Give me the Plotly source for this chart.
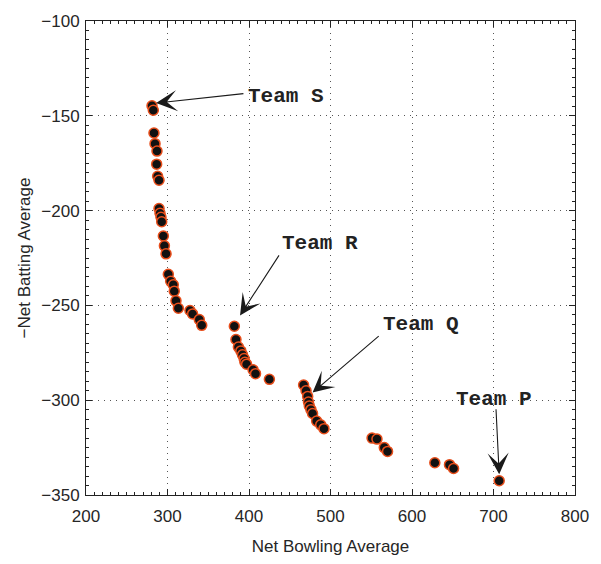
import plotly.graph_objects as go

# Net bowling average (x) and negated net batting average (y) per team-season
bowling = [281, 282.6, 283.4, 284.7, 287.1, 286.7, 287.9, 289.6, 289.6, 290.8,
           292, 292.9, 294.9, 296.2, 298.2, 301, 303.9, 307.1, 308.3, 310.4,
           313.3, 327.6, 330.8, 339, 342,
           382, 384, 387, 390, 392, 394, 395, 397, 405, 408, 425,
           467, 470, 472, 473, 474, 476, 478, 483, 488, 492,
           551, 557, 566, 570, 628, 646, 651, 707]
batting = [-144.7, -147.1, -159.1, -164.7, -168.6, -175.5, -181.9, -184, -198.9, -201.4,
           -203.5, -205.9, -213.4, -218.6, -222.8, -233.6, -237.3, -239.1, -242.5, -247.6,
           -251.5, -252.7, -254.5, -257.5, -260.5,
           -261, -268, -272, -274, -276, -278, -280, -281, -284, -286, -289,
           -292, -295, -298, -301, -303, -305, -307, -311, -313, -315,
           -320, -320.5, -325, -327, -333, -334, -336, -342.5]

# Labelled teams: label position, arrow tail and arrow tip (data units)
team_names = ["Team S", "Team R", "Team Q", "Team P"]
label_x = [446, 487, 611, 700]
label_y = [-139.7, -217.4, -260.3, -299.7]
tail_x = [395, 438, 561, 703]
tail_y = [-138.2, -222.8, -265.5, -304]
tip_x = [286, 389, 478, 707]
tip_y = [-143.3, -255.3, -296, -339]

x_ticks = [200, 300, 400, 500, 600, 700, 800]
y_ticks = [-350, -300, -250, -200, -150, -100]

fig = go.Figure()
fig.add_trace(go.Scatter(
    x=bowling, y=batting, mode="markers",
    marker=dict(size=10, color="#111111", line=dict(color="#e84e1b", width=1.5)),
    showlegend=False, cliponaxis=False,
))

annotations = []
for name, lx, ly, ax, ay, tx, ty in zip(team_names, label_x, label_y,
                                         tail_x, tail_y, tip_x, tip_y):
    annotations.append(dict(
        x=tx, y=ty, ax=ax, ay=ay, xref="x", yref="y", axref="x", ayref="y",
        text="", showarrow=True, arrowhead=3, arrowsize=3.2, arrowwidth=1.1,
        arrowcolor="#1a1a1a", standoff=0, startstandoff=0,
    ))
    annotations.append(dict(
        x=lx, y=ly, xref="x", yref="y", text=name, showarrow=False,
        xanchor="center", yanchor="middle",
        font=dict(family="Liberation Mono", size=21, color="#222222", weight="bold"),
    ))

axis_common = dict(
    showline=True, linecolor="#222222", linewidth=1, mirror="ticks",
    ticks="inside", ticklen=6, tickcolor="#222222", tickwidth=1,
    showgrid=True, gridcolor="#555555", gridwidth=1, griddash="1px,5px",
    zeroline=False,
    tickfont=dict(family="Liberation Sans", size=17, color="#262626"),
    title_font=dict(family="Liberation Sans", size=17, color="#262626"),
)

fig.update_layout(
    width=601, height=564,
    margin=dict(l=86, r=26, t=16, b=61),
    paper_bgcolor="white", plot_bgcolor="white",
    xaxis=dict(range=[200, 800], tickvals=x_ticks,
               minor=dict(dtick=10, ticks="inside", ticklen=3, tickcolor="#222222", showgrid=False),
               title=dict(text="Net Bowling Average", standoff=14),
               ticklabelstandoff=6, **axis_common),
    yaxis=dict(range=[-350, -100], tickvals=y_ticks,
               minor=dict(dtick=5, ticks="inside", ticklen=3, tickcolor="#222222", showgrid=False),
               title=dict(text="\u2212Net Batting Average", standoff=6),
               ticklabelstandoff=2, **axis_common),
    annotations=annotations,
)

fig.write_html("out.html")
